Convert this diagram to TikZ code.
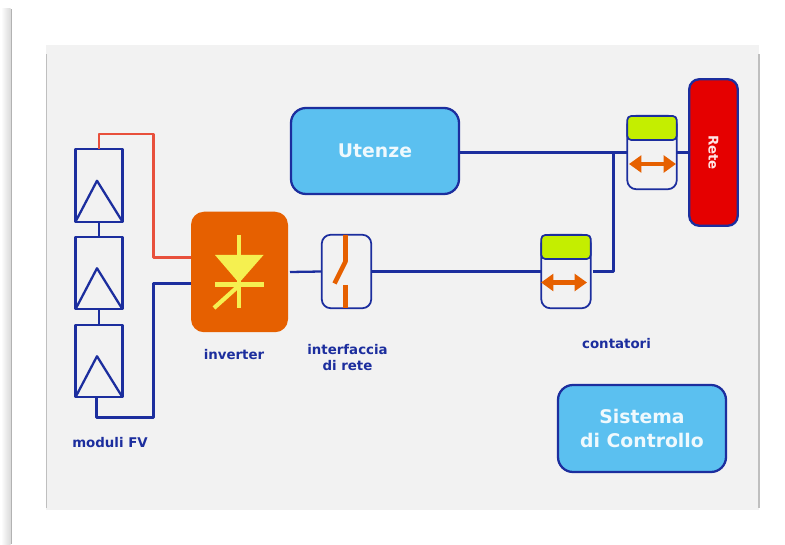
\documentclass[tikz,border=0pt]{standalone}
\usepackage{fontspec}
\setmainfont{DejaVu Sans}
\usetikzlibrary{arrows.meta,positioning}
\definecolor{scuro}{HTML}{1C2E9E}
\definecolor{rosso}{HTML}{E8503C}
\definecolor{arancio}{HTML}{E66000}
\definecolor{giallo}{HTML}{F5F050}
\definecolor{verde}{HTML}{C4EE00}
\definecolor{celeste}{HTML}{5BC0F0}
\definecolor{fondo}{HTML}{F2F2F2}
\begin{document}
\begin{tikzpicture}[line width=1.3pt, line join=round]
\tikzstyle{every node} = [inner sep=0pt, outer sep=0pt]
\tikzstyle{modulo} = [rectangle, draw=scuro, minimum width=.94cm, minimum height=1.45cm]
\tikzstyle{scatola} = [rectangle, draw=scuro, line width=1pt, rounded corners=.18cm, minimum width=.99cm, minimum height=1.47cm]
\tikzstyle{display} = [rectangle, draw=scuro, line width=1pt, fill=verde, rounded corners=.08cm, minimum width=.99cm, minimum height=.48cm]
\tikzstyle{blocco} = [rectangle, draw=scuro, fill=celeste, rounded corners=.3cm, minimum width=3.36cm, text=white!90!celeste, font=\fontsize{10.7}{13.5}\selectfont\bfseries, align=center]
\tikzstyle{testo} = [text=scuro, font=\fontsize{7.6}{8.6}\selectfont\bfseries, align=center]
\tikzstyle{filo} = [draw=scuro]
\tikzstyle{filo rosso} = [draw=rosso]
\tikzstyle{simbolo} = [draw=giallo, line width=2.4pt]
\tikzstyle{sezionatore} = [draw=arancio, line width=2.6pt]
\tikzstyle{freccia} = [draw=arancio, line width=2.3pt, {Triangle[length=7pt,width=9.5pt]}-{Triangle[length=7pt,width=9.5pt]}]
\useasboundingbox (0,0) rectangle (15.7,10.88);
% fondo
\shade[left color=white, right color=black!15, draw=none] (.02,0) rectangle (.215,10.7);
\fill[black!30] (.215,0) rectangle (.245,10.7);
\node[fill=fondo, minimum width=14.26cm, minimum height=9.3cm] (panel) at (8.05,5.33) {};
\fill[black!25] (.91,.72) rectangle (.94,9.8);
\fill[black!25] (15.16,.72) rectangle (15.19,9.8);
% moduli
\node[modulo] (pv1) at (1.98,7.17) {};
\node[modulo] (pv2) at (1.98,5.42) {};
\node[modulo] (pv3) at (1.98,3.66) {};
\draw[filo] (pv1.south west) -- ++(.43,.82) -- (pv1.south east);
\draw[filo] (pv2.south west) -- ++(.43,.82) -- (pv2.south east);
\draw[filo] (pv3.south west) -- ++(.43,.82) -- (pv3.south east);
\node[rectangle, fill=arancio, rounded corners=.26cm, minimum width=1.94cm, minimum height=2.41cm] (inv) at (4.79,5.44) {};
\node[scatola] (sw) at (6.93,5.45) {};
\node[scatola] (c2) at (11.32,5.45) {};
\node[display] (d2) at (11.32,5.94) {};
\node[scatola] (c1) at (13.04,7.83) {};
\node[display] (d1) at (13.04,8.32) {};
\node[rectangle, draw=scuro, fill=red!90!black, rounded corners=.2cm, minimum width=2.93cm, minimum height=.97cm, text=white!90!red, font=\fontsize{7.6}{9}\selectfont\bfseries, rotate=-90] (rete) at (14.27,7.83) {Rete};
\node[blocco, minimum height=1.72cm] (ute) at (7.5,7.86) {Utenze};
\node[blocco, minimum height=1.74cm] (ctrl) at (12.84,2.31) {Sistema\\di Controllo};
\coordinate (a) at (3.07,8.2);
\coordinate (b) at (3.07,2.53);
\coordinate (j) at (12.27,7.83);
% collegamenti
\draw[filo rosso] (pv1.north) |- (a) |- ([yshift=.29cm]inv.west);
\draw[filo] ([yshift=-.23cm]inv.west) -| (b) -| ([xshift=-.05cm]pv3.south);
\draw[filo] (pv1.south) -- (pv2.north);
\draw[filo] (pv2.south) -- (pv3.north);
\draw[filo] ([xshift=.04cm]inv.east) -- (sw.west);
\draw[filo] (sw.east) -- (c2.west);
\draw[filo] (ute.east |- c1.west) -- (c1.west);
\draw[filo] ([xshift=.05cm]c2.east) -| (j);
\draw[filo] (c1.east) -- (rete.south);
% simboli
\fill[giallo] (4.30,5.78) -- (5.27,5.78) -- (4.78,5.22) -- cycle;
\draw[simbolo] (4.78,6.18) -- (4.78,4.72);
\draw[simbolo] (4.30,5.19) -- (5.27,5.19);
\draw[simbolo] (4.28,4.72) -- (4.76,5.15);
\draw[sezionatore] (6.91,6.18) -- (6.91,5.65) -- (6.69,5.21);
\draw[sezionatore] (6.91,5.18) -- (6.91,4.72);
\draw[freccia] (10.82,5.23) -- (11.74,5.23);
\draw[freccia] (12.58,7.6) -- (13.52,7.6);
% etichette
\node[testo] (lmod) at (2.2,2.02) {moduli FV};
\node[testo] (linv) at (4.68,3.78) {inverter};
\node[testo] (lsw) at (6.95,3.73) {interfaccia\\di rete};
\node[testo] (lcon) at (12.33,4.0) {contatori};
\end{tikzpicture}
\end{document}
